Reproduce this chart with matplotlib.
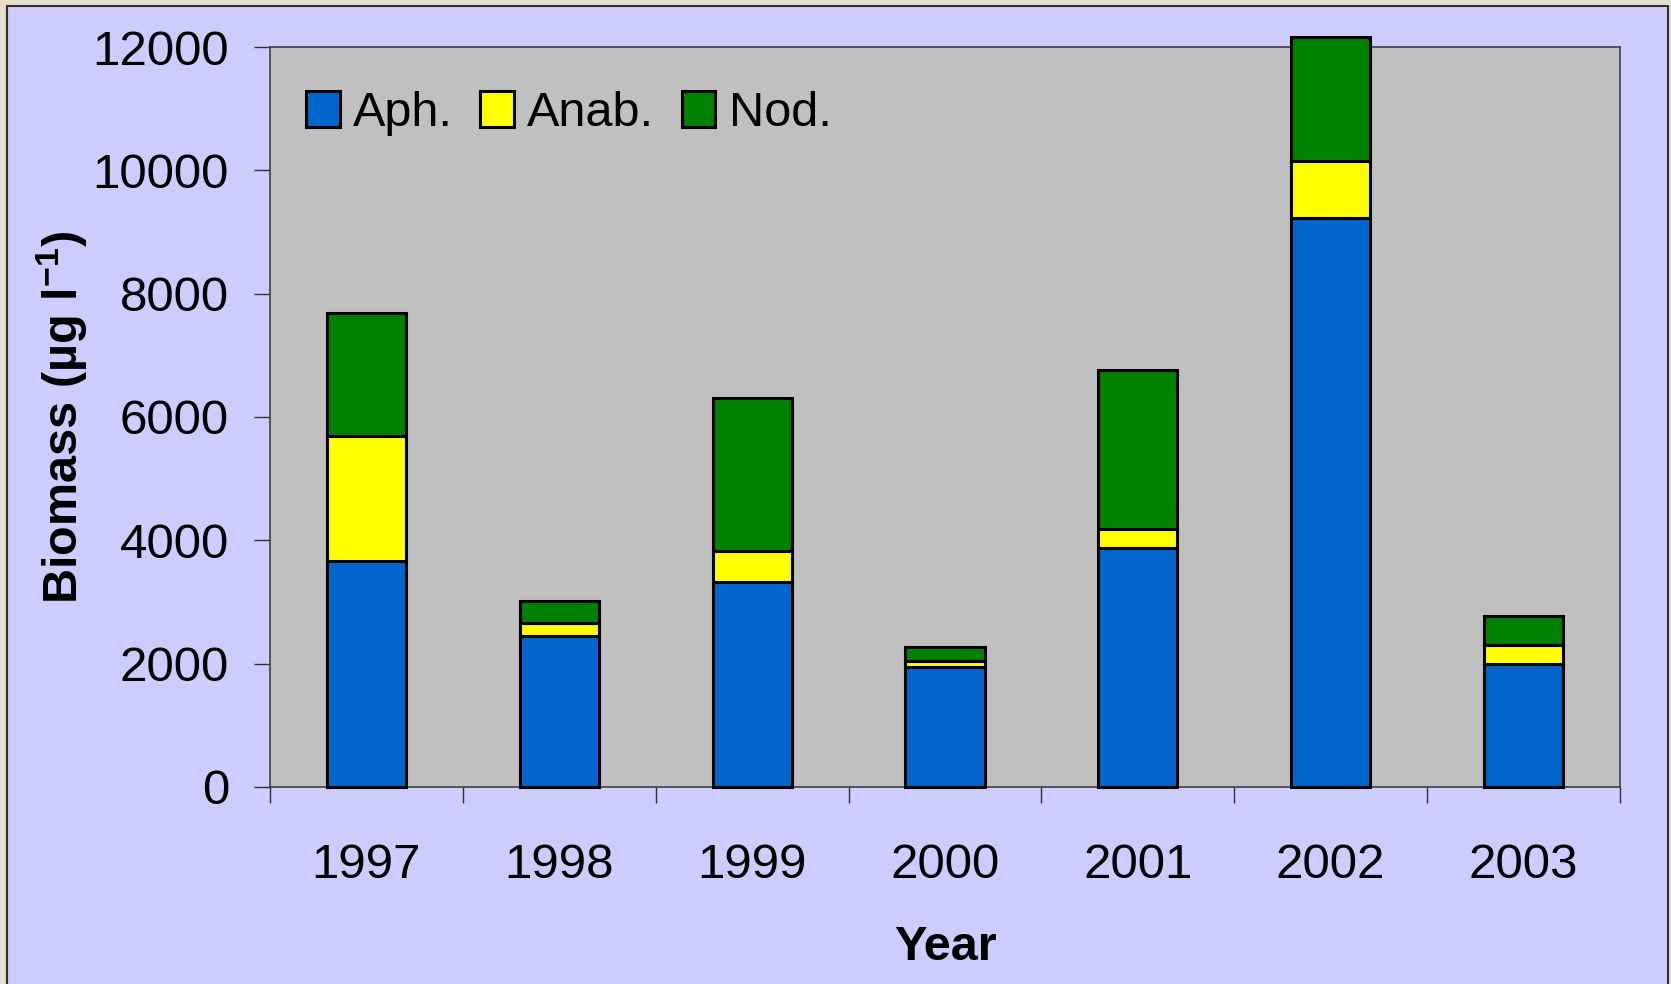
import matplotlib
matplotlib.use('Agg')
import matplotlib.pyplot as plt
from matplotlib.patches import Rectangle
import numpy as np

plt.rcParams['font.family'] = ['Liberation Sans', 'DejaVu Sans']
plt.rcParams['mathtext.fontset'] = 'custom'
plt.rcParams['mathtext.rm'] = 'Liberation Sans:bold'
plt.rcParams['mathtext.bf'] = 'Liberation Sans:bold'
plt.rcParams['mathtext.default'] = 'bf'

years = ['1997', '1998', '1999', '2000', '2001', '2002', '2003']
aph = [3670, 2450, 3320, 1950, 3870, 9230, 1990]
anab = [2020, 210, 500, 90, 310, 920, 310]
nod = [1990, 350, 2490, 225, 2580, 2020, 465]

W, H = 1671, 984
fig = plt.figure(figsize=(W / 100, H / 100), dpi=100)
fig.patch.set_facecolor('#E6DFCE')

# lavender panel with dark frame
panel = Rectangle((7 / W, -0.01), (1668 - 7) / W, 1 - 6 / H + 0.01,
                  transform=fig.transFigure, facecolor='#CCCCFF',
                  edgecolor='#303030', linewidth=1.5, zorder=-10)
fig.patches.append(panel)

ax = fig.add_axes([270 / W, 1 - 787 / H, 1350 / W, 740 / H])
ax.set_zorder(1)
ax.set_facecolor('#C0C0C0')

x = np.arange(len(years))
bw = 0.41
bottom2 = np.array(aph) + np.array(anab)
ax.bar(x, aph, bw, color='#0066CC', edgecolor='black', linewidth=2.2,
       label='Aph.', clip_on=False, zorder=3)
ax.bar(x, anab, bw, bottom=aph, color='#FFFF00', edgecolor='black',
       linewidth=2.2, label='Anab.', clip_on=False, zorder=3)
ax.bar(x, nod, bw, bottom=bottom2, color='#008000', edgecolor='black',
       linewidth=2.2, label='Nod.', clip_on=False, zorder=3)

ax.set_xlim(-0.5, len(years) - 0.5)
ax.set_ylim(0, 12000)
ax.set_yticks(range(0, 12001, 2000))
ax.tick_params(axis='y', labelsize=35.5, length=11.5, width=1, pad=18,
               color='#303030')
ax.set_xticks(x)
ax.set_xticklabels(years)
ax.tick_params(axis='x', which='major', labelsize=35.5, length=0, pad=40)
ax.set_xticks(np.arange(-0.5, len(years)), minor=True)
ax.tick_params(axis='x', which='minor', length=11.5, width=1,
               color='#303030')

for s in ax.spines.values():
    s.set_color('#404040')
    s.set_linewidth(1.2)

ax.set_xlabel('Year', fontsize=35, fontweight='bold', labelpad=27)
ax.set_ylabel(r'Biomass (µg l$^{-1}$)', fontsize=35, fontweight='bold',
              labelpad=2)

ax.legend(loc='center left', bbox_to_anchor=(0.0267, 0.910), ncol=3,
          frameon=False, fontsize=35, handlelength=0.69, handleheight=0.75,
          handletextpad=0.27, columnspacing=0.57, borderpad=0,
          borderaxespad=0)

fig.savefig('out.png', dpi=100, facecolor=fig.get_facecolor())
